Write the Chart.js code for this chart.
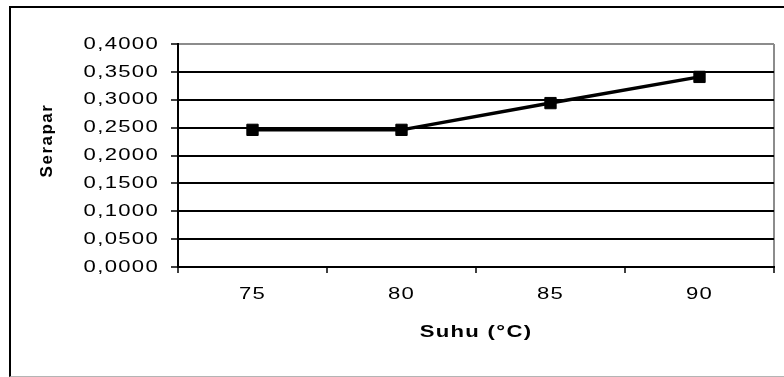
<!DOCTYPE html>
<html>
<head>
<meta charset="utf-8">
<title>Serapan vs Suhu</title>
<script src="https://cdn.jsdelivr.net/npm/chart.js@4/dist/chart.umd.min.js"></script>
<style>
  html, body { margin: 0; padding: 0; background: #fff; overflow: hidden; }
  #bingkai {
    position: absolute; left: 9px; top: 6px; width: 773px; height: 368px;
    border-left: 2px solid #000; border-top: 2px solid #000; border-bottom: 1px solid #b4b4b4;
  }
  #wadah { position: absolute; left: 0; top: 0; width: 784px; height: 377px; }
</style>
</head>
<body>
<div id="bingkai"></div>
<div id="wadah"><canvas id="grafik"></canvas></div>
<script>
// Data
const suhu = ['75', '80', '85', '90'];
const serapan = [0.246, 0.246, 0.294, 0.341];
const batasY = [0, 0.4];
const langkahY = 0.05;
const judulX = 'Suhu (°C)';
const judulY = 'Serapar';

const huruf = '"Liberation Sans", Arial, sans-serif';

// grafik Excel aslinya ditarik melebar, jadi teks mendatar ikut dilebarkan
const lebarTeks = 1.3;
const geserJudulY = 15; // judul Y di aslinya sedikit di atas tengah
const spasiHuruf = {
    id: 'spasiHuruf',
    afterInit(chart) {
        const ctx = chart.ctx;
        const tulis = ctx.fillText.bind(ctx);
        const ukur = ctx.measureText.bind(ctx);
        ctx.fillText = (t, x, y) => {
            const tegak = t === judulY;
            ctx.letterSpacing = tegak ? '1.5px' : '1px';
            ctx.save();
            ctx.translate(x, y);
            if (tegak) ctx.translate(geserJudulY, 0);
            else ctx.scale(lebarTeks, 1);
            tulis(t, 0, 0);
            ctx.restore();
        };
        ctx.measureText = (t) => {
            const tegak = t === judulY;
            ctx.letterSpacing = tegak ? '1.5px' : '1px';
            const m = ukur(t);
            return { width: m.width * (tegak ? 1 : lebarTeks) };
        };
    }
};

new Chart(document.getElementById('grafik'), {
    type: 'line',
    data: {
        labels: suhu,
        datasets: [{
            data: serapan,
            borderColor: '#000',
            borderWidth: 3.5,
            pointStyle: 'rect',
            pointRadius: 8,
            pointBorderWidth: 1,
            pointBackgroundColor: '#000',
            pointBorderColor: '#000',
            tension: 0
        }]
    },
    options: {
        responsive: true,
        maintainAspectRatio: false,
        animation: false,
        layout: { padding: { top: 44, right: 10, left: 0, bottom: 0 } },
        plugins: { legend: { display: false }, tooltip: { enabled: false } },
        scales: {
            x: {
                offset: true,
                afterFit: (s) => { s.height = 110; },
                grid: {
                    offset: true,
                    drawOnChartArea: true,
                    color: (c) => c.type === 'scale' ? '#8c8c8c' : 'rgba(0,0,0,0)',
                    lineWidth: 2,
                    tickColor: '#000',
                    tickWidth: 1.5,
                    tickLength: 6
                },
                border: { color: '#000', width: 2 },
                ticks: {
                    color: '#000',
                    padding: 11,
                    maxRotation: 0,
                    font: { family: huruf, size: 17 }
                },
                title: {
                    display: true,
                    text: judulX,
                    color: '#000',
                    padding: { top: 0, bottom: 34 },
                    font: { family: huruf, size: 17, weight: 'bold' }
                }
            },
            y: {
                min: batasY[0],
                max: batasY[1],
                afterFit: (s) => { s.width = 178; },
                grid: {
                    color: (c) => (c.tick && Math.abs(c.tick.value - batasY[1]) < 1e-9) ? '#8c8c8c' : '#000',
                    lineWidth: 2,
                    tickColor: '#000',
                    tickWidth: 1.5,
                    tickLength: 7
                },
                border: { color: '#000', width: 2 },
                ticks: {
                    stepSize: langkahY,
                    color: '#000',
                    padding: 12,
                    font: { family: huruf, size: 17 },
                    callback: (v) => v.toFixed(4).replace('.', ',')
                },
                title: {
                    display: true,
                    text: judulY,
                    color: '#000',
                    padding: { top: 37, bottom: 0 },
                    font: { family: huruf, size: 17, weight: 'bold' }
                }
            }
        }
    },
    plugins: [spasiHuruf]
});
</script>
</body>
</html>
